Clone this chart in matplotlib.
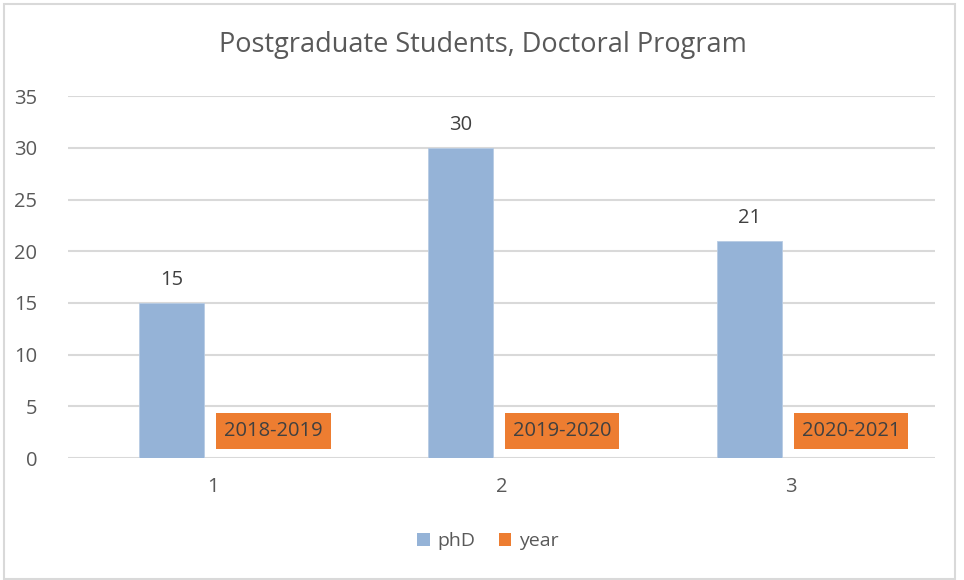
# Postgraduate Students, Doctoral Program - Excel style column chart
import numpy as np
import matplotlib
matplotlib.use('Agg')
import matplotlib.pyplot as plt
from matplotlib.patches import Rectangle, Patch

# data
categories = ['1', '2', '3']
phd_values = [15, 30, 21]
year_values = [0, 0, 0]  # the year series only carries labels
year_labels = ['2018-2019', '2019-2020', '2020-2021']

title = 'Postgraduate Students, Doctoral Program'
blue = '#95B3D7'
orange = '#ED7D31'
text_grey = '#595959'
grid_grey = '#D9D9D9'

plt.rcParams['font.family'] = ['Open Sans', 'DejaVu Sans']

fig = plt.figure(figsize=(9.64, 5.8), dpi=100)
ax = fig.add_axes([68 / 964, 1 - 458 / 580, (935 - 68) / 964, (458 - 96.3) / 580])

x = np.arange(1, len(categories) + 1)
bar_w = 0.225
offset = 0.142

ax.bar(x - offset, phd_values, bar_w, color=blue, edgecolor='#B8CCE4',
       linewidth=0.6, zorder=3, label='phD')
ax.bar(x + offset, year_values, bar_w, color=orange, zorder=3, label='year')

# value labels over the blue columns
for xi, v in zip(x - offset, phd_values):
    ax.text(xi, v + 1.3, str(v), ha='center', va='bottom', fontsize=14.5,
            color='#404040')

# year labels in orange boxes near the base
for xi, lab in zip(x + 0.21, year_labels):
    ax.text(xi, 2.6, lab, ha='center', va='center', fontsize=14.5, color='#404040',
            bbox=dict(boxstyle='square,pad=0.4', facecolor=orange, edgecolor='none'),
            zorder=4)

ax.set_xlim(0.5, 3.5)
ax.set_ylim(0, 35)
ax.set_yticks(np.arange(0, 36, 5))
ax.set_xticks(x)
ax.set_xticklabels(categories)
ax.tick_params(axis='both', length=0, labelsize=14.5, colors=text_grey)
ax.tick_params(axis='y', pad=22)
ax.tick_params(axis='x', pad=14)
ax.grid(axis='y', color=grid_grey, linewidth=1.5, zorder=0)
for s in ax.spines.values():
    s.set_visible(False)

fig.text(483 / 964, 1 - 45 / 580, title, ha='center', va='center',
         fontsize=19.5, color=text_grey)

handles = [Patch(facecolor=blue), Patch(facecolor=orange)]
fig.legend(handles, ['phD', 'year'], loc='center', bbox_to_anchor=(488 / 964, 1 - 541 / 580),
           ncol=2, frameon=False, fontsize=14, handlelength=0.65, handleheight=0.65,
           handletextpad=0.4, columnspacing=1.2, labelcolor=text_grey)

# light outer border of the chart area
fig.patches.append(Rectangle((4 / 964, 1 / 580), 951 / 964, 575 / 580, transform=fig.transFigure,
                             fill=False, edgecolor='#D9D9D9', linewidth=1.5))

fig.savefig('out.png', dpi=100)
